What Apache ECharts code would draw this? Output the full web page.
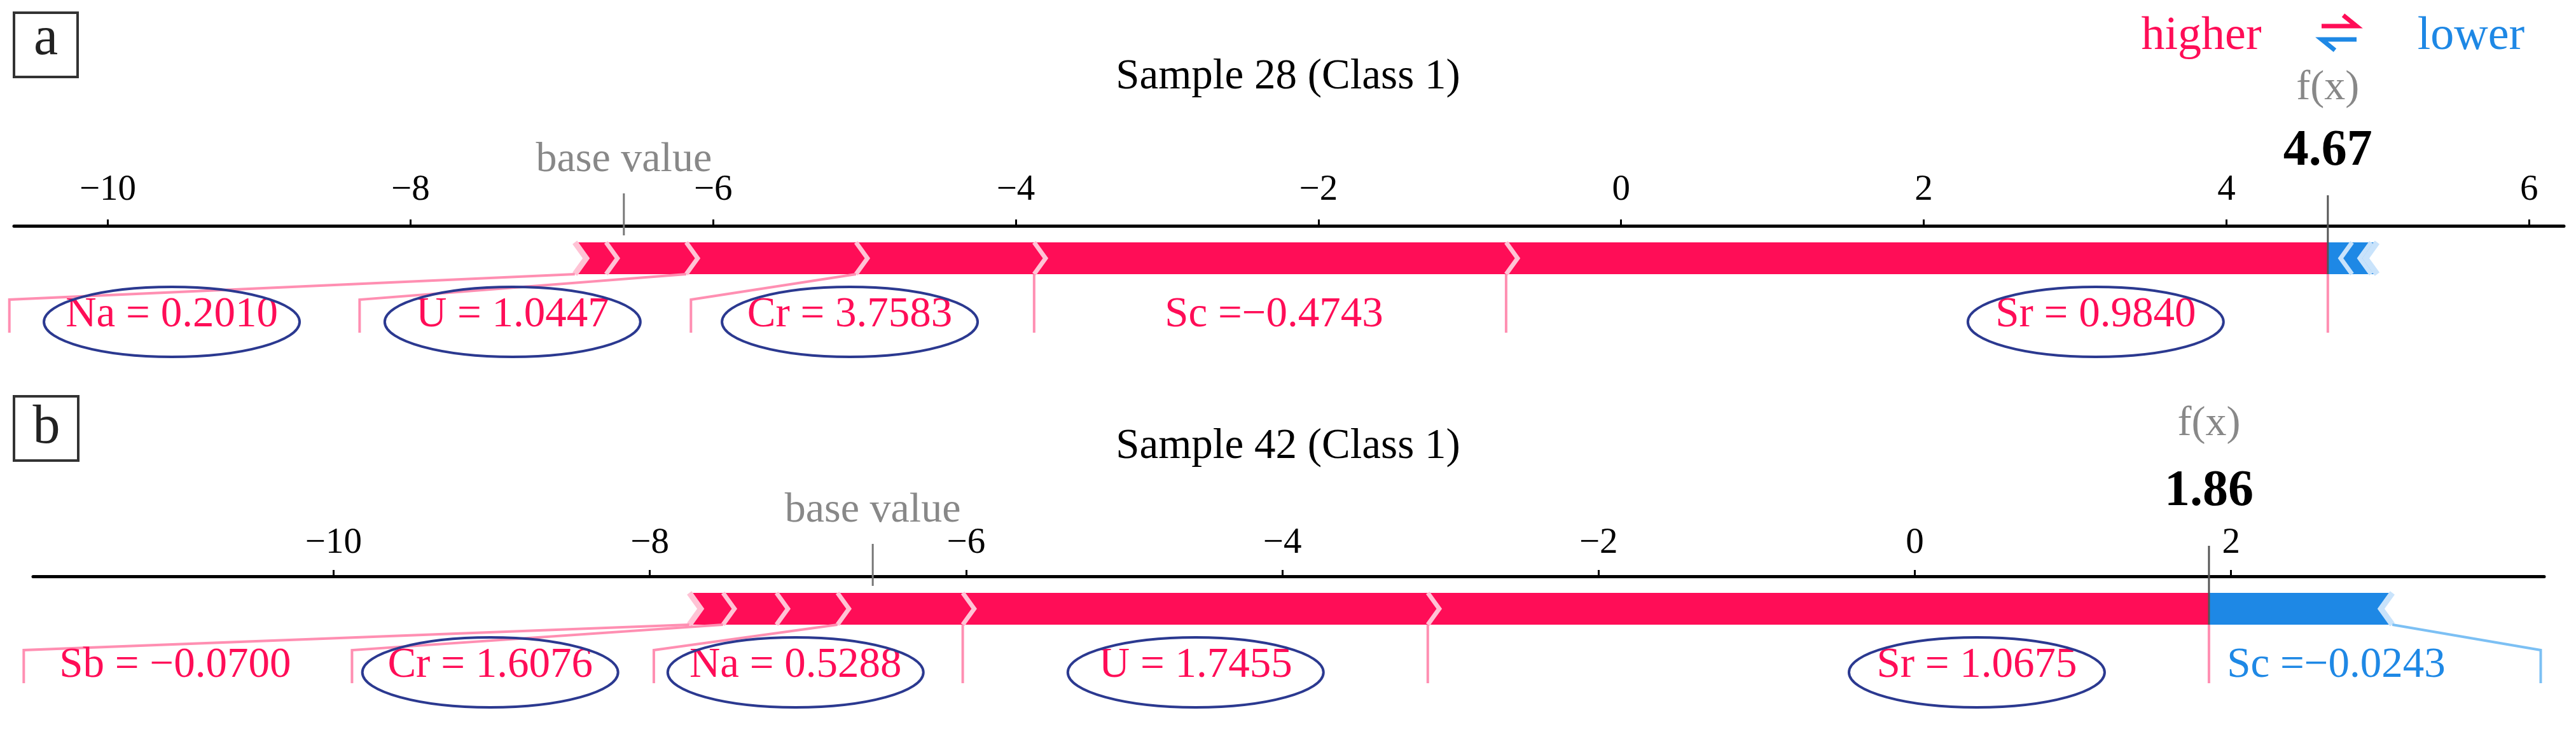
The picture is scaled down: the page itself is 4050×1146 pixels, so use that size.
<!DOCTYPE html>
<html><head><meta charset="utf-8">
<script src="https://cdn.jsdelivr.net/npm/echarts@6/dist/echarts.min.js"></script>
<style>html,body{margin:0;padding:0;background:#fff}#c{width:4050px;height:1146px}</style>
</head><body><div id="c"></div>
<script>
// ---------------- data ----------------
const ticksA = [-10, -8, -6, -4, -2, 0, 2, 4, 6];
const ticksB = [-10, -8, -6, -4, -2, 0, 2];
const titleA = 'Sample 28 (Class 1)';
const titleB = 'Sample 42 (Class 1)';
const baseA = -6.59, fxA = 4.67;
const baseB = -6.59, fxB = 1.86;
// positive (red) SHAP contributions, ordered left -> right (largest next to f(x))
const redShapA  = [0.206, 0.530, 1.122, 1.177, 3.119, 5.430];
const redLabelA = ['Na = 0.2010', '', 'U = 1.0447', 'Cr = 3.7583', 'Sc =\u22120.4743', 'Sr = 0.9840'];
const redCircleA = [true, false, true, true, false, true];
// negative (blue) SHAP contributions (magnitudes), ordered from f(x) to the right
const blueShapA  = [0.160, 0.126, 0.040];
const blueLabelA = ['', '', ''];
const blueCircleA = [false, false, false];

const redShapB  = [0.213, 0.338, 0.386, 0.792, 2.941, 4.940];
const redLabelB = ['Sb = \u22120.0700', 'Cr = 1.6076', '', 'Na = 0.5288', 'U = 1.7455', 'Sr = 1.0675'];
const redCircleB = [false, true, false, true, true, true];
const blueShapB  = [1.160];
const blueLabelB = ['Sc =\u22120.0243'];
const blueCircleB = [false];

// ---------------- style / layout ----------------
const SERIF = '"Liberation Serif","Times New Roman",serif';
const RED = '#ff0d57', BLUE = '#1e88e5';
const RED_LIGHT = '#ffc3d5', BLUE_LIGHT = '#c9e3fb';
const RED_LINE = '#ff8fb2', BLUE_LINE = '#7cc0f4';
const NAVY = '#2b3990';
const LABEL_SIZE = 67;

const PANELS = [
  {left: 22, right: 4031, top: 355, min: -10.62, max: 6.23, tickGap: 56, ticks: ticksA,
   fxName: -216, fxVal: -117, padRed: 217, padBlue: 178,
   data: {base: baseA, fx: fxA, red: redShapA, redLabel: redLabelA, redCircle: redCircleA,
          blue: blueShapA, blueLabel: blueLabelA, blueCircle: blueCircleA}},
  {left: 52, right: 4000, top: 906, min: -11.90, max: 3.98, tickGap: 52, ticks: ticksB,
   fxName: -239, fxVal: -133, padRed: 152, padBlue: 178,
   data: {base: baseB, fx: fxB, red: redShapB, redLabel: redLabelB, redCircle: redCircleB,
          blue: blueShapB, blueLabel: blueLabelB, blueCircle: blueCircleB}}
];

const mctx = document.createElement('canvas').getContext('2d');
function textW(t, size) { mctx.font = size + 'px ' + SERIF; return mctx.measureText(t).width; }
function pl(points, color, w) {
  return {type: 'polyline', shape: {points}, style: {stroke: color, lineWidth: w, fill: null, lineJoin: 'miter'}};
}
function txt(text, x, y, size, color, weight) {
  return {type: 'text', style: {text, x, y, fontSize: size, fontFamily: SERIF, fontWeight: weight || 'normal',
    fill: color, align: 'center', verticalAlign: 'middle'}};
}

function renderPanel(api, P) {
  const D = P.data;
  const X = v => api.coord([v, 0])[0];
  const Y = r => api.coord([0, r])[1];
  const yt = Y(26), yb = Y(76), ym = Y(51), d = 18;
  const yBend = Y(116), yBot = Y(168), yTxt = Y(140), yEll = Y(151);
  const ch = [];
  const redTotal = D.red.reduce((a, b) => a + b, 0);
  let acc = D.fx - redTotal;
  const reds = D.red.map(v => { const s = {v0: acc, v1: acc + v}; acc += v; return s; });
  acc = D.fx;
  const blues = D.blue.map(v => { const s = {v0: acc, v1: acc + v}; acc += v; return s; });
  const pfx = X(D.fx);

  // bar fills
  reds.forEach((s, i) => {
    const p0 = X(s.v0), p1 = X(s.v1);
    const pts = [[p0, yt], [p1, yt]];
    if (i < reds.length - 1) pts.push([p1 + d, ym]);
    pts.push([p1, yb], [p0, yb], [p0 + d, ym]);
    ch.push({type: 'polygon', shape: {points: pts}, style: {fill: RED}});
  });
  blues.forEach((s, i) => {
    const q0 = X(s.v0), q1 = X(s.v1);
    const pts = [[q0, yt], [q1, yt], [q1 - d, ym], [q1, yb], [q0, yb]];
    if (i > 0) pts.push([q0 - d, ym]);
    ch.push({type: 'polygon', shape: {points: pts}, style: {fill: BLUE}});
  });
  // chevron separators
  reds.forEach((s, i) => {
    const p0 = X(s.v0);
    ch.push(pl([[p0, yt], [p0 + d, ym], [p0, yb]], RED_LIGHT, i === 0 ? 9 : 7));
  });
  blues.forEach((s, i) => {
    const q0 = X(s.v0), q1 = X(s.v1);
    if (i > 0) ch.push(pl([[q0, yt], [q0 - d, ym], [q0, yb]], BLUE_LIGHT, 7));
    if (i === blues.length - 1) ch.push(pl([[q1, yt], [q1 - d, ym], [q1, yb]], BLUE_LIGHT, 9));
  });

  // label layout (red: stacked leftwards from f(x))
  const labels = [];
  let prevLeft = pfx;
  for (let i = reds.length - 1; i >= 0; i--) {
    const lab = D.redLabel[i]; if (!lab) continue;
    const p0 = X(reds[i].v0), p1 = X(reds[i].v1);
    const right = Math.min(prevLeft, p1);
    const w = textW(lab, LABEL_SIZE) + P.padRed;
    const left = Math.min(p0, right - w);
    prevLeft = left;
    const mid = (left + right) / 2;
    const cx = left < p0 - 1 ? mid - 20 : Math.max(mid, right - 365);
    ch.push(pl([[p0, yb], [left, yBend], [left, yBot]], RED_LINE, 4));
    labels.push({cx, lab, color: RED, circle: D.redCircle[i]});
  }
  ch.push(pl([[pfx, yb], [pfx, yBot]], RED_LINE, 4));
  let prevRight = pfx;
  blues.forEach((s, j) => {
    const lab = D.blueLabel[j]; if (!lab) return;
    const q0 = X(s.v0), q1 = X(s.v1);
    const left = Math.max(prevRight, q0);
    const w = textW(lab, LABEL_SIZE) + P.padBlue;
    const right = Math.max(q1, left + w);
    prevRight = right;
    const cx = Math.min((left + right) / 2, left + 200);
    ch.push(pl([[q1, yb], [right, yBend], [right, yBot]], BLUE_LINE, 4));
    labels.push({cx, lab, color: BLUE, circle: D.blueCircle[j]});
  });

  // base value marker
  const xb = X(D.base);
  ch.push(pl([[xb, Y(-51)], [xb, Y(15)]], '#777777', 3));
  ch.push(txt('base value', xb, Y(-103), 66, '#888888'));
  // f(x) marker
  ch.push(pl([[pfx, Y(-48)], [pfx, yb]], '#555555', 3));
  ch.push(txt('f(x)', pfx, Y(P.fxName), 66, '#888888'));
  ch.push(txt(D.fx.toFixed(2), pfx, Y(P.fxVal), 80, '#000000', 'bold'));

  labels.forEach(l => {
    ch.push(txt(l.lab, l.cx, yTxt, LABEL_SIZE, l.color));
    if (l.circle) ch.push({type: 'ellipse', shape: {cx: l.cx, cy: yEll, rx: 201, ry: 55},
      style: {fill: null, stroke: NAVY, lineWidth: 4}});
  });
  return {type: 'group', children: ch};
}

const fmt = v => (v < 0 ? '\u2212' + Math.abs(v) : String(v));

const option = {
  animation: false,
  backgroundColor: '#ffffff',
  grid: PANELS.map(P => ({left: P.left, top: P.top, width: P.right - P.left, height: 220,
    containLabel: false, outerBoundsMode: 'none'})),
  xAxis: PANELS.map((P, i) => ({
    gridIndex: i, type: 'value', position: 'top', min: P.min, max: P.max,
    axisLine: {show: true, lineStyle: {color: '#000', width: 5}},
    axisTick: {show: true, customValues: P.ticks, length: 10, inside: false, lineStyle: {color: '#000', width: 3}},
    axisLabel: {show: true, customValues: P.ticks, formatter: fmt, margin: P.tickGap, verticalAlign: 'middle',
      fontFamily: SERIF, fontSize: 57, color: '#000'},
    splitLine: {show: false}
  })),
  yAxis: PANELS.map((P, i) => ({gridIndex: i, type: 'value', min: 0, max: 220, inverse: true, show: false,
    splitLine: {show: false}})),
  series: PANELS.map((P, i) => ({
    type: 'custom', xAxisIndex: i, yAxisIndex: i, clip: false, silent: true,
    data: [[P.data.fx, 0]],
    renderItem: (params, api) => renderPanel(api, P)
  })),
  graphic: [
    {type: 'rect', shape: {x: 22, y: 20, width: 100, height: 101}, style: {fill: null, stroke: '#333', lineWidth: 4}},
    {type: 'text', style: {text: 'a', x: 72, y: 62, fontSize: 86, fontFamily: SERIF, fill: '#222', align: 'center', verticalAlign: 'middle'}},
    {type: 'rect', shape: {x: 22, y: 623, width: 101, height: 101}, style: {fill: null, stroke: '#333', lineWidth: 4}},
    {type: 'text', style: {text: 'b', x: 73, y: 673, fontSize: 86, fontFamily: SERIF, fill: '#222', align: 'center', verticalAlign: 'middle'}},
    {type: 'text', style: {text: titleA, x: 2025, y: 121, fontSize: 67, fontFamily: SERIF, fill: '#000', align: 'center', verticalAlign: 'middle'}},
    {type: 'text', style: {text: titleB, x: 2025, y: 702, fontSize: 67, fontFamily: SERIF, fill: '#000', align: 'center', verticalAlign: 'middle'}},
    {type: 'text', style: {text: 'higher', x: 3461, y: 58, fontSize: 74, fontFamily: SERIF, fill: RED, align: 'center', verticalAlign: 'middle'}},
    {type: 'text', style: {text: 'lower', x: 3885, y: 58, fontSize: 74, fontFamily: SERIF, fill: BLUE, align: 'center', verticalAlign: 'middle'}},
    {type: 'polyline', shape: {points: [[3650, 41], [3705, 41], [3684, 24]]}, style: {stroke: RED, lineWidth: 7, fill: null}},
    {type: 'polyline', shape: {points: [[3705, 62], [3650, 62], [3671, 79]]}, style: {stroke: BLUE, lineWidth: 7, fill: null}}
  ]
};

const chart = echarts.init(document.getElementById('c'), null, {renderer: 'canvas', width: 4050, height: 1146});
chart.setOption(option);
</script>
</body></html>
